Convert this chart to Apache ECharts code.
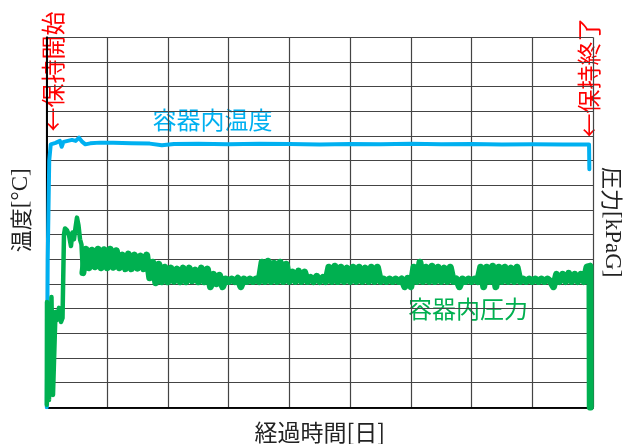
<!DOCTYPE html>
<html>
<head>
<meta charset="utf-8">
<script src="https://cdn.jsdelivr.net/npm/echarts@6/dist/echarts.min.js"></script>
<style>html,body{margin:0;padding:0;background:#fff;}#c{width:623px;height:444px;}</style>
</head>
<body>
<div id="c"></div>
<script>
// 経過時間 [日] axis range
const xMin = 0, xMax = 90, xStep = 10;
const yMin = 0, yMax = 150, yStep = 10;

// 容器内温度
const tempDays = [0.05,0.2,0.45,0.7,1.5,2.2,2.5,2.8,3.5,4.2,4.8,5.35,5.9,6.4,7.2,8.8,11,14,17,19,21,25,30,35,40,45,50,55,60,65,70,75,80,85,89.35,89.4];
const tempVals = [0,60,100,106.6,107.2,108.0,105.6,107.6,108.0,108.4,108.0,109.3,107.6,106.6,107.0,107.3,107.2,107.0,106.9,106.2,106.7,106.8,106.6,106.8,106.7,106.5,106.7,106.6,106.8,106.6,106.7,106.5,106.6,106.5,106.5,96.5];

// 容器内圧力: start-up part
const presStartDays = [0.05,0.08,0.41,0.82,1.07,1.48,1.73,2.06,2.39,2.64,2.88,3.05,3.38,3.71,4.03,4.28,4.53,4.78,5.02,5.27,5.52,5.76,6.0];
const presStartVals = [1,42.7,3.0,44.7,5.0,38.6,35.4,40.3,34.6,36.2,70.1,72.5,71.7,69.7,65.4,70.9,68.1,72.9,76.9,73.7,68.1,66.0,54.4];
// 容器内圧力: logged every half day from day 6.0
const presBandStartDay = 6.0, presBandStep = 0.5;
const presBandVals = [
  54.6,64.1,56.6,63.7,57.0,64.1,56.6,63.9,56.6,64.1,56.8,63.5,56.6,
  61.7,56.2,62.1,56.2,61.7,56.4,61.3,56.2,61.7,
  52.5,58.8,50.5,58.0,
  50.9,56.8,50.9,56.4,51.1,56.0,50.9,56.4,50.9,56.4,51.3,55.6,50.9,56.4,50.9,56.0,
  48.9,53.9,50.1,53.5,48.9,
  52.0,51.0,52.0,51.0,52.3,48.9,52.0,51.0,52.0,51.0,52.0,51.0,
  58.8,51.0,59.2,51.0,58.4,51.0,58.8,51.0,58.0,51.0,
  54.8,51.0,55.2,51.0,54.8,51.0,
  52.6,51.0,53.1,51.0,52.6,
  51.0,56.8,51.0,57.2,51.0,56.8,51.0,56.4,51.0,56.8,51.0,56.8,51.0,56.4,51.0,56.8,51.0,56.8,
  51.0,52.0,51.0,52.0,51.0,52.0,51.0,52.0,48.9,52.3,
  48.9,56.8,51.0,58.8,51.0,56.8,51.0,57.2,51.0,56.8,51.0,56.4,51.0,56.8,51.0,
  52.0,48.9,52.0,51.0,52.0,51.0,52.0,51.0,
  56.8,48.9,56.8,51.0,57.2,48.9,56.8,51.0,56.8,51.0,56.4,51.0,56.8,
  51.0,52.0,51.0,52.0,51.0,52.0,51.0,52.0,51.0,52.0,51.0,48.9,
  53.9,51.0,53.9,51.0,54.3,51.0,53.9,51.0,53.9,51.0,
  56.8,57.2
];
const presEndDays = [89.55];
const presEndVals = [0];

const tempData = tempDays.map((d, i) => [d, tempVals[i]]);
const presStartData = presStartDays.map((d, i) => [d, presStartVals[i]]);
const presBandData = presBandVals.map((v, i) => [presBandStartDay + i * presBandStep, v])
  .concat(presEndDays.map((d, i) => [d, presEndVals[i]]));

const jp = 'Noto Sans CJK JP';
const serif = 'Liberation Serif';
const green = '#00b050', blue = '#00b0f0';

const chart = echarts.init(document.getElementById('c'), null, {renderer: 'canvas'});
chart.setOption({
  animation: false,
  backgroundColor: '#fff',
  grid: {left: 46.5, right: 30, top: 37.3, bottom: 36.7, show: false, containLabel: false, outerBoundsMode: 'none'},
  xAxis: [{
    type: 'value', min: xMin, max: xMax, interval: xStep,
    axisLabel: {show: false}, axisTick: {show: false},
    axisLine: {show: true, lineStyle: {color: '#000', width: 1.5}},
    splitLine: {show: true, lineStyle: {color: '#444', width: 1.2}},
    name: '経過時間[日]', nameLocation: 'middle', nameGap: 13,
    nameTextStyle: {fontFamily: jp, fontSize: 23, color: '#222'}
  }, {
    type: 'value', position: 'top', min: xMin, max: xMax, interval: xStep,
    axisLabel: {show: false}, axisTick: {show: false}, splitLine: {show: false},
    axisLine: {show: true, lineStyle: {color: '#000', width: 1.5}}
  }],
  yAxis: [{
    type: 'value', min: yMin, max: yMax, interval: yStep,
    axisLabel: {show: false}, axisTick: {show: false},
    axisLine: {show: true, lineStyle: {color: '#000', width: 1.5}},
    splitLine: {show: true, lineStyle: {color: '#444', width: 1.2}},
    name: '{j|温度}{s|[°C]}', nameLocation: 'middle', nameRotate: 90, nameGap: 14,
    nameTextStyle: {color: '#222', padding: [0, 0, 0, 24],
      rich: {j: {fontFamily: jp, fontSize: 22, color: '#222'}, s: {fontFamily: serif, fontSize: 23, color: '#222'}}}
  }, {
    type: 'value', position: 'right', min: yMin, max: yMax, interval: yStep,
    axisLabel: {show: false}, axisTick: {show: false}, splitLine: {show: false},
    axisLine: {show: true, lineStyle: {color: '#000', width: 1.8}},
    name: '{j|圧力}{s|[kPaG]}', nameLocation: 'middle', nameRotate: -90, nameGap: 8,
    nameTextStyle: {color: '#222',
      rich: {j: {fontFamily: jp, fontSize: 22, color: '#222'}, s: {fontFamily: serif, fontSize: 23, color: '#222'}}}
  }],
  series: [{
    name: '容器内温度', type: 'line', xAxisIndex: 0, yAxisIndex: 0, data: tempData,
    symbol: 'none', z: 3,
    lineStyle: {color: blue, width: 4, join: 'round', cap: 'round'}
  }, {
    name: '容器内圧力', type: 'line', xAxisIndex: 0, yAxisIndex: 1, data: presStartData,
    symbol: 'none', z: 4,
    lineStyle: {color: green, width: 4.5, join: 'round', cap: 'round'}
  }, {
    name: '容器内圧力', type: 'line', xAxisIndex: 0, yAxisIndex: 1, data: presBandData,
    symbol: 'none', z: 4,
    lineStyle: {color: green, width: 7, join: 'round', cap: 'round'}
  }],
  graphic: [
    {type: 'text', x: 52.5, y: 71.5, rotation: Math.PI / 2,
     style: {text: '←保持開始', fill: '#ff0000', fontFamily: jp, fontSize: 24, align: 'center', verticalAlign: 'middle'}},
    {type: 'text', x: 588.5, y: 77.5, rotation: Math.PI / 2,
     style: {text: '←保持終了', fill: '#ff0000', fontFamily: jp, fontSize: 24, align: 'center', verticalAlign: 'middle'}},
    {type: 'text', x: 212.5, y: 120,
     style: {text: '容器内温度', fill: blue, fontFamily: jp, fontSize: 24, align: 'center', verticalAlign: 'middle'}},
    {type: 'text', x: 468, y: 309,
     style: {text: '容器内圧力', fill: green, fontFamily: jp, fontSize: 24, align: 'center', verticalAlign: 'middle'}}
  ]
});
</script>
</body>
</html>
